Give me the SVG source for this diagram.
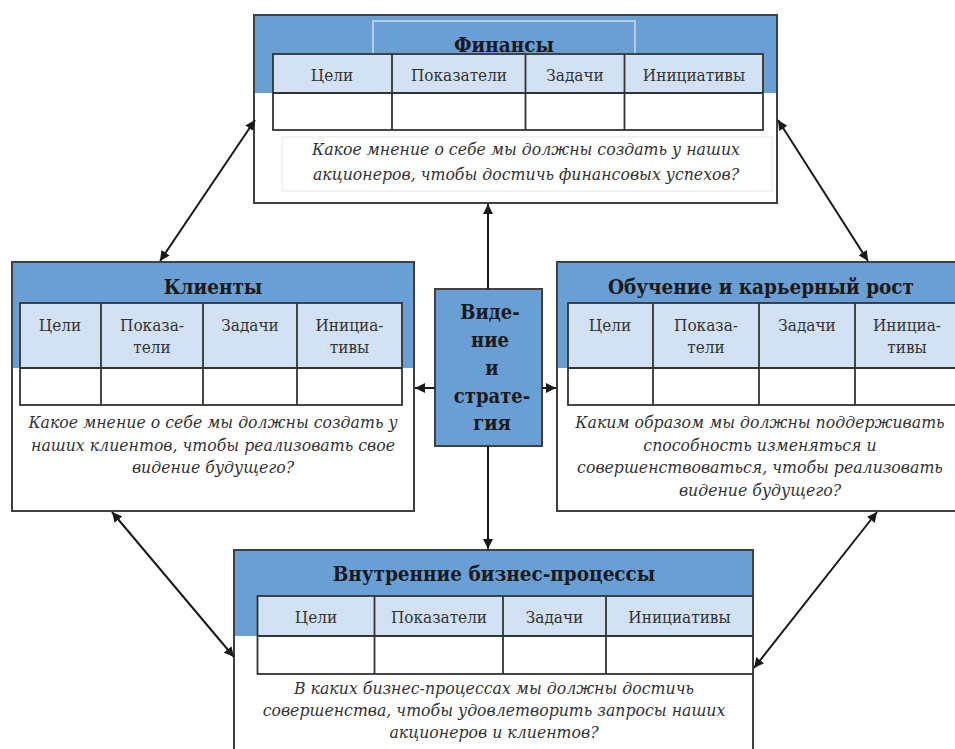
<svg xmlns="http://www.w3.org/2000/svg" width="955" height="749" viewBox="0 0 955 749">
<defs>
<marker id="ah" viewBox="0 0 10 10" refX="10" refY="5" markerWidth="10" markerHeight="10" markerUnits="userSpaceOnUse" orient="auto-start-reverse">
<path d="M0,0 L10,5 L0,10 z" fill="#1a1a1a"/>
</marker>
<style>
.box{fill:#fff;stroke:#404040;stroke-width:2}
.band{fill:#6a9fd5}
.hdr{fill:#d2e2f4}
.tbl{fill:none;stroke:#333;stroke-width:1.8}
.pale{fill:none;stroke:#e6ebf0;stroke-width:1.2}
text{font-family:'DejaVu Serif Condensed','DejaVu Serif',serif}
.title{font-weight:bold;font-size:20.5px;fill:#1a1a1a;text-anchor:middle}
.h{font-size:17px;fill:#333;text-anchor:middle}
.q{font-style:italic;font-size:17.5px;fill:#333;text-anchor:middle}
.c{font-weight:bold;font-size:20px;fill:#1a1a1a;text-anchor:middle}
.con{stroke:#1a1a1a;stroke-width:2;fill:none}
</style>
</defs>
<rect width="955" height="749" fill="#fff"/>

<g id="finance">
<rect class="box" x="254" y="15" width="523" height="188"/>
<rect class="band" x="255" y="16" width="521" height="77"/>
<rect class="pale" x="373" y="21" width="262" height="33"/>
<rect class="pale" x="282" y="137" width="490" height="54"/>
<rect class="hdr" x="273" y="54" width="490" height="39"/>
<rect fill="#fff" x="273" y="93" width="490" height="37"/>
<rect class="tbl" x="273" y="54" width="490" height="76"/>
<path class="tbl" d="M273,93H763M392,54V130M525.5,54V130M624.5,54V130"/>
<text class="title" x="504" y="52">Финансы</text>
<text class="h" x="332" y="81">Цели</text>
<text class="h" x="459" y="81">Показатели</text>
<text class="h" x="575" y="81">Задачи</text>
<text class="h" x="694" y="81">Инициативы</text>
<text class="q" x="526" y="155">Какое мнение о себе мы должны создать у наших</text>
<text class="q" x="526" y="180">акционеров, чтобы достичь финансовых успехов?</text>
</g>

<g id="clients">
<rect class="box" x="12" y="262" width="402" height="249"/>
<rect class="band" x="13" y="263" width="400" height="105"/>
<rect class="hdr" x="20" y="303" width="382" height="65"/>
<rect fill="#fff" x="20" y="368" width="382" height="37"/>
<rect class="tbl" x="20" y="303" width="382" height="102"/>
<path class="tbl" d="M20,368H402M101,303V405M203,303V405M297,303V405"/>
<text class="title" x="213" y="294">Клиенты</text>
<text class="h" x="60" y="331">Цели</text>
<text class="h" x="152" y="331">Показа-</text>
<text class="h" x="152" y="353">тели</text>
<text class="h" x="250" y="331">Задачи</text>
<text class="h" x="349.5" y="331">Инициа-</text>
<text class="h" x="349.5" y="353">тивы</text>
<text class="q" x="213" y="428">Какое мнение о себе мы должны создать у</text>
<text class="q" x="213" y="451">наших клиентов, чтобы реализовать свое</text>
<text class="q" x="213" y="473">видение будущего?</text>
</g>

<g id="learning">
<rect class="box" x="557" y="262" width="406" height="249"/>
<rect class="band" x="558" y="263" width="404" height="105"/>
<rect class="hdr" x="568" y="303" width="392" height="65"/>
<rect fill="#fff" x="568" y="368" width="392" height="37"/>
<rect class="tbl" x="568" y="303" width="392" height="102"/>
<path class="tbl" d="M568,368H960M653,303V405M759,303V405M855,303V405"/>
<text class="title" x="761" y="294">Обучение и карьерный рост</text>
<text class="h" x="610" y="331">Цели</text>
<text class="h" x="706" y="331">Показа-</text>
<text class="h" x="706" y="353">тели</text>
<text class="h" x="807" y="331">Задачи</text>
<text class="h" x="907" y="331">Инициа-</text>
<text class="h" x="907" y="353">тивы</text>
<text class="q" x="760" y="428">Каким образом мы должны поддерживать</text>
<text class="q" x="760" y="451">способность изменяться и</text>
<text class="q" x="760" y="473">совершенствоваться, чтобы реализовать</text>
<text class="q" x="760" y="496">видение будущего?</text>
</g>

<g id="processes">
<rect class="box" x="234" y="550" width="519" height="215"/>
<rect class="band" x="235" y="551" width="517" height="85"/>
<rect class="hdr" x="257.5" y="596" width="495.5" height="40"/>
<rect fill="#fff" x="257.5" y="636" width="495.5" height="38"/>
<rect class="tbl" x="257.5" y="596" width="495.5" height="78"/>
<path class="tbl" d="M257.5,636H753M374.5,596V674M503,596V674M606,596V674"/>
<text class="title" x="494" y="581">Внутренние бизнес-процессы</text>
<text class="h" x="316" y="623">Цели</text>
<text class="h" x="439" y="623">Показатели</text>
<text class="h" x="554.5" y="623">Задачи</text>
<text class="h" x="679.5" y="623">Инициативы</text>
<text class="q" x="494" y="694">В каких бизнес-процессах мы должны достичь</text>
<text class="q" x="494" y="716">совершенства, чтобы удовлетворить запросы наших</text>
<text class="q" x="494" y="738">акционеров и клиентов?</text>
</g>

<g id="vision">
<rect x="435" y="289" width="107" height="157" fill="#6a9fd5" stroke="#404040" stroke-width="2"/>
<text class="c" x="490" y="319">Виде-</text>
<text class="c" x="490" y="347">ние</text>
<text class="c" x="492" y="375">и</text>
<text class="c" x="492" y="403">страте-</text>
<text class="c" x="492" y="430">гия</text>
</g>

<g id="connectors">
<line class="con" x1="488" y1="289" x2="488" y2="204" marker-end="url(#ah)"/>
<line class="con" x1="488" y1="446" x2="488" y2="549" marker-end="url(#ah)"/>
<line class="con" x1="435" y1="388" x2="415" y2="388" marker-end="url(#ah)"/>
<line class="con" x1="542" y1="388" x2="556" y2="388" marker-end="url(#ah)"/>
<line class="con" x1="255" y1="120" x2="160" y2="261" marker-start="url(#ah)" marker-end="url(#ah)"/>
<line class="con" x1="778" y1="120" x2="868" y2="261" marker-start="url(#ah)" marker-end="url(#ah)"/>
<line class="con" x1="112" y1="512" x2="234" y2="657" marker-start="url(#ah)" marker-end="url(#ah)"/>
<line class="con" x1="877" y1="512" x2="754" y2="668" marker-start="url(#ah)" marker-end="url(#ah)"/>
</g>
</svg>
